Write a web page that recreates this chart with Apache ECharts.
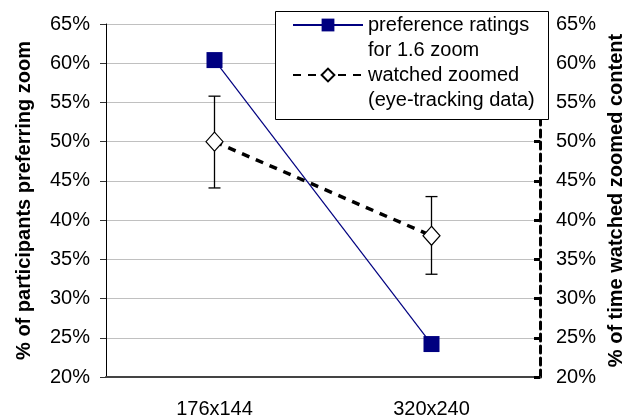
<!DOCTYPE html>
<html><head><meta charset="utf-8">
<script src="https://cdn.jsdelivr.net/npm/echarts@6/dist/echarts.min.js"></script>
<style>html,body{margin:0;padding:0;background:#fff}#c{width:623px;height:417px}</style>
</head><body><div id="c"></div>
<script>
const categories = ['176x144', '320x240'];
const preference = [60.4, 24.2];
const watched = [50, 38];
const watchedLow = [44.1, 33.1];
const watchedHigh = [55.8, 43];
const seriesNames = ['preference ratings\nfor 1.6 zoom', 'watched zoomed\n(eye-tracking data)'];

const chart = echarts.init(document.getElementById('c'));
const font = 'Liberation Sans, Arial, sans-serif';
const fs = 20;
const errData = categories.map((c, i) => [i, watchedLow[i], watchedHigh[i]]);
chart.setOption({
  animation: false,
  textStyle: {fontFamily: font},
  grid: {left: 106, right: 83, top: 24, bottom: 40, containLabel: false, outerBoundsMode: 'none'},
  graphic: [{
    type: 'rect', z: 10, left: 275, top: 11,
    shape: {width: 273, height: 108},
    style: {fill: '#fff', stroke: '#000', lineWidth: 1}
  }],
  legend: {
    left: 292, top: -12.5, orient: 'vertical', z: 11,
    padding: 0, itemGap: -25, itemWidth: 70, itemHeight: 16,
    textStyle: {fontSize: fs, color: '#000', lineHeight: 25, fontFamily: font},
    formatter: name => '\u00a0\n' + name,
    data: seriesNames
  },
  xAxis: {
    type: 'category', data: categories, boundaryGap: true,
    axisLine: {lineStyle: {color: '#444', width: 2}},
    axisTick: {length: 6, lineStyle: {color: '#000'}},
    axisLabel: {fontSize: fs, color: '#000', margin: 22, fontFamily: font}
  },
  yAxis: [{
    type: 'value', min: 20, max: 65, interval: 5, position: 'left',
    name: '% of participants preferring zoom', nameLocation: 'middle', nameGap: 72,
    nameTextStyle: {fontSize: fs, fontWeight: 'bold', color: '#000', fontFamily: font},
    axisLine: {show: true, lineStyle: {color: '#000', width: 1}},
    axisTick: {show: true, length: 6, lineStyle: {color: '#333'}},
    axisLabel: {fontSize: fs, color: '#000', margin: 16, formatter: v => v + '%', fontFamily: font},
    splitLine: {lineStyle: {color: '#c0c0c0'}}
  }, {
    type: 'value', min: 20, max: 65, interval: 5, position: 'right',
    name: '% of time watched zoomed content', nameLocation: 'middle', nameGap: 65,
    nameTextStyle: {fontSize: fs, fontWeight: 'bold', color: '#000', fontFamily: font},
    axisLine: {show: true, lineStyle: {color: '#000', width: 3, type: [7, 5]}},
    axisTick: {show: true, inside: true, length: 6, lineStyle: {color: '#000', width: 3}},
    axisLabel: {fontSize: fs, color: '#000', margin: 16, formatter: v => v + '%', fontFamily: font},
    splitLine: {show: false}
  }],
  series: [{
    name: seriesNames[0], type: 'line', data: preference,
    yAxisIndex: 0, symbol: 'rect', symbolSize: 16,
    lineStyle: {color: '#000080', width: 1.2},
    itemStyle: {color: '#000080'}, z: 3
  }, {
    name: seriesNames[1], type: 'line', data: watched,
    yAxisIndex: 1, symbol: 'diamond', symbolSize: [17, 19],
    lineStyle: {color: '#000', width: 3.5, type: [8, 7]},
    itemStyle: {color: '#fff', borderColor: '#000', borderWidth: 1.2}, z: 4
  }, {
    type: 'custom', yAxisIndex: 1, data: errData, z: 2,
    renderItem: function (params, api) {
      const lo = api.coord([api.value(0), api.value(1)]);
      const hi = api.coord([api.value(0), api.value(2)]);
      const w = 6;
      const st = {stroke: '#000', lineWidth: 1.3};
      return {type: 'group', children: [
        {type: 'line', shape: {x1: lo[0], y1: lo[1], x2: hi[0], y2: hi[1]}, style: st},
        {type: 'line', shape: {x1: lo[0] - w, y1: lo[1], x2: lo[0] + w, y2: lo[1]}, style: st},
        {type: 'line', shape: {x1: hi[0] - w, y1: hi[1], x2: hi[0] + w, y2: hi[1]}, style: st}
      ]};
    }
  }]
});
</script></body></html>
